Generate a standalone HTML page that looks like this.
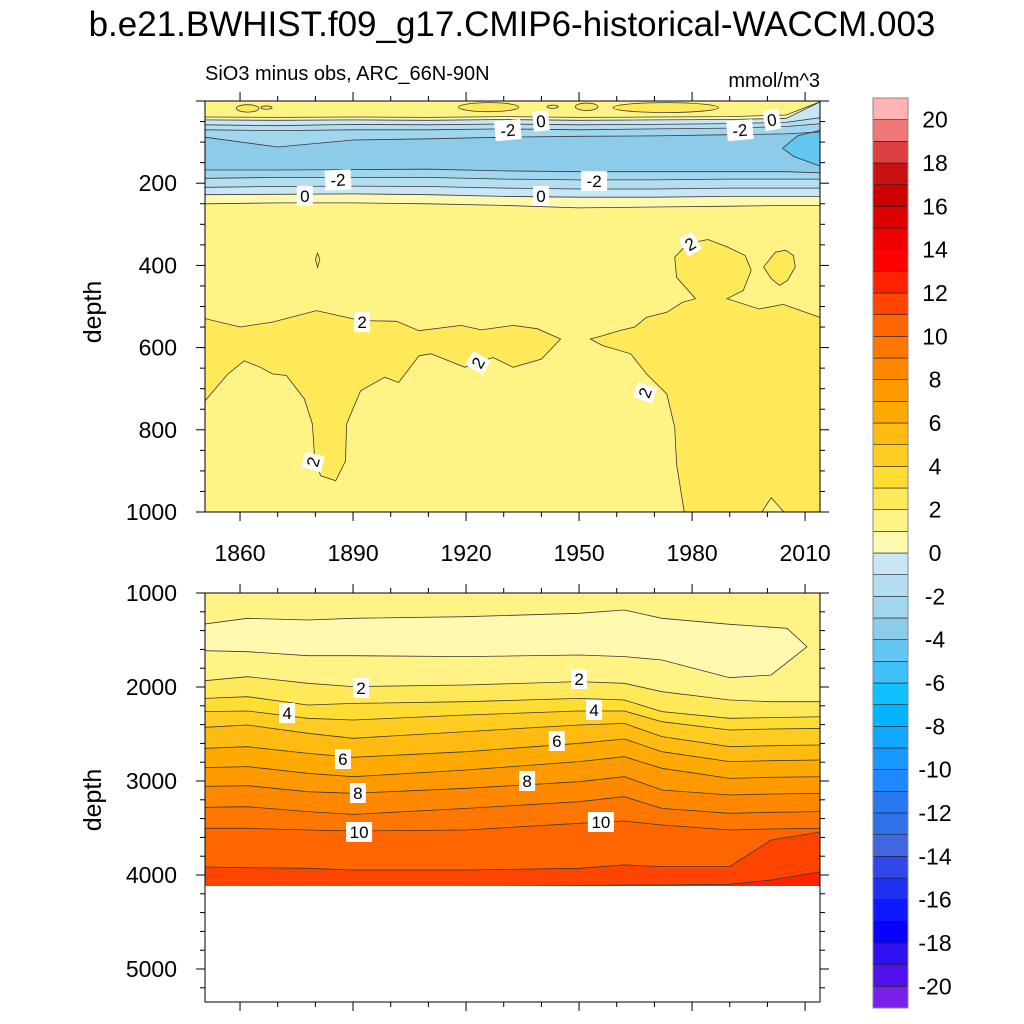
<!DOCTYPE html>
<html><head><meta charset="utf-8"><title>SiO3 minus obs</title>
<style>
html,body{margin:0;padding:0;background:#fff;}
svg{display:block;font-family:"Liberation Sans",sans-serif;}
</style></head>
<body>
<svg id="chart" width="1024" height="1024" viewBox="0 0 1024 1024" xmlns="http://www.w3.org/2000/svg">
<defs>
<clipPath id="clipTop"><rect x="205" y="101" width="615" height="411"/></clipPath>
<clipPath id="clipBot"><rect x="205" y="593" width="615" height="409"/></clipPath>
</defs>
<text x="512" y="36" font-size="35" text-anchor="middle">b.e21.BWHIST.f09_g17.CMIP6-historical-WACCM.003</text>
<text x="205" y="80" font-size="20">SiO3 minus obs, ARC_66N-90N</text>
<text x="820" y="87" font-size="20" text-anchor="end">mmol/m^3</text>
<text transform="translate(101,312) rotate(-90)" font-size="25" text-anchor="middle">depth</text>
<text transform="translate(101,800) rotate(-90)" font-size="25" text-anchor="middle">depth</text>
<g id="topPlot" clip-path="url(#clipTop)"></g>
<g id="botPlot" clip-path="url(#clipBot)"></g>
<g id="labels"></g>
<g id="axes"></g>
<g id="cbar"></g>
</svg>
<script>
// ---- data ----
const levelMin = -21;
const levelColors = ["#7820E8","#5010EE","#3010F0","#0A00FF","#1018FF","#2030F0","#3048E8","#4066E0","#3070E8","#2878F0","#2088FF","#1898FF","#10A8FF","#00B4FF","#10C0FF","#40C0F8","#64C6F2","#8CCBEA","#A0D6EE","#B4DEF2","#C8E6F5","#FFF9B0","#FFF385","#FFE958","#FFDD33","#FFCC22","#FFBB11","#FFAA00","#FF9900","#FF8800","#FF7700","#FF6600","#FF4400","#FF2200","#FF0000","#EE0000","#DD0000","#CC0000","#C81010","#DC4040","#F07878","#FFB3B3"];
const cbarLabels = [20,18,16,14,12,10,8,6,4,2,0,-2,-4,-6,-8,-10,-12,-14,-16,-18,-20];

// top panel (0-1000 m)
const topYears = [1850.7,1870,1890,1910,1930,1950,1970,1990,2005,2014.5];
const topBandVals = [0.5,-0.5,-1.5,-2.5,-3.5,-2.5,-1.5,-0.5,0.5];
const topLineA = [39,40,39,40,38,40,39,38,34,0];
const topLineB = [46,47,46,47,45,47,46,45,42,0];
const topLineC = [58,60,57,58,56,58,57,55,52,40];
const topLineD = [70,72,70,70,68,70,68,66,62,55];
const topLineE = [88,112,95,92,88,86,85,82,80,75];
const topLineF = [168,168,167,166,170,172,172,172,172,175];
const topLineG = [188,186,186,186,190,192,192,190,190,190];
const topLineH = [210,208,207,208,212,214,214,212,212,212];
const topLineI = [228,227,226,228,232,234,234,232,232,232];
const topLineJ = [250,248,248,250,254,260,258,256,254,254];
const minus4Years = [2014.5,2008,2004,2007,2014.5];
const minus4Depths = [70,85,115,135,160];
const r1Years = [1850,1860,1868.6,1880.3,1892,1901.6,1907.5,1918.7,1924,1932.5,1938.9,1945.1,1940,1932.5,1927.2,1922.9,1919.7,1910.7,1907.5,1902.1,1898.4,1892,1888.3,1888,1885.4,1881.4,1879.8,1879.2,1877.1,1872.3,1868.6,1865.4,1861.1,1856.8,1850];
const r1Depths = [528,550,538,510,534,536,559,546,557,546,554,579,628,648,624,636,648,615,620,685,672,705,786,876,924,912,868,786,725,668,664,648,632,664,737];
const r2Years = [1953,1956.2,1963.7,1967.9,1973.3,1975.4,1975.9,1978.1,1997.8,2001,2005.3,2015,2015,2004.2,1997.8,1989.3,1993.6,1995.7,1994.1,1989.3,1984.2,1978.8,1975.4,1975.9,1980.9,1977.4,1973.3,1967.9,1964.8,1960.6,1956.2];
const r2Depths = [579,595,615,664,713,794,884,1010,1010,965,1010,1010,530,495,506,481,461,412,376,355,337,347,380,429,481,490,514,526,550,559,571];
const r3Years = [1999,2002.1,2004.8,2006.9,2007.4,2005.3,2003.2,2001];
const r3Depths = [404,368,363,376,404,437,449,432];
const spikeYears = [1880,1880.6,1881.2,1880.6];
const spikeDepths = [385,370,385,405];
const patchYears = [1862,1867,1926,1952,1973,1943];
const patchDepths = [18,16,15,14,16,14];
const patchHalfYears = [3,1.5,8,3,14,1.5];
const patchHalfDepths = [9,4,11,9,12,4];

// bottom panel (1000-5350 m)
const botYears = [1850.7,1862,1878,1890,1920,1950,1962,1972,1990,2001,2014.5];
const botLineLevels = [2,3,4,5,6,7,8,9,10,11,12];
const botL2 = [1933,1890,1961,1996,1979,1943,1961,2050,2138,2156,2156];
const botL3 = [2121,2103,2192,2174,2156,2121,2138,2262,2333,2326,2316];
const botL4 = [2262,2255,2333,2351,2298,2255,2255,2369,2457,2447,2440];
const botL5 = [2429,2404,2493,2546,2475,2404,2387,2528,2635,2624,2617];
const botL6 = [2652,2635,2706,2748,2688,2599,2553,2688,2794,2784,2777];
const botL7 = [2858,2847,2918,2954,2883,2794,2741,2865,2972,2961,2954];
const botL8 = [3057,3050,3114,3131,3078,3007,2954,3096,3149,3138,3131];
const botL9 = [3280,3273,3326,3355,3291,3220,3167,3291,3344,3333,3326];
const botL10 = [3503,3503,3521,3532,3521,3450,3425,3468,3521,3511,3503];
const botL11 = [3915,3922,3929,3947,3947,3929,3893,3911,3911,3628,3539];
const botL12 = [4124,4124,4124,4124,4124,4113,4106,4106,4099,4053,3964];
const botDataBottom = 4117;
const paleYears = [1850,1862,1878,1890,1920,1950,1962,1972,1990,2005.2,2010.5,2001,1990,1972,1962,1950,1920,1890,1878,1862,1850];
const paleDepths = [1333,1269,1287,1269,1252,1216,1181,1269,1333,1376,1571,1872,1901,1713,1677,1660,1677,1667,1667,1624,1613];

// contour labels
const labYears = [1931.1,1939.9,1992.7,2001.2,1886,1877.2,1954,1939.9,1979.5,1892.4,1923.2,1967.5,1879.4];
const labDepths = [71,49,71,46,192,231,195,231,348,538,637,710,878];
const labTexts = ["-2","0","-2","0","-2","0","-2","0","2","2","2","2","2"];
const labRot = [-5,-5,-5,-10,-3,0,0,0,-30,0,-60,-70,-75];
const blabYears = [1892.1,1950,1872.5,1954,1887.3,1944.1,1891.3,1936.2,1891.6,1955.8];
const blabDepths = [2011,1915,2277,2245,2766,2574,3128,3000,3543,3436];
const blabTexts = ["2","2","4","4","6","6","8","8","10","10"];

// ---- scales ----
const NS = "http://www.w3.org/2000/svg";
function xS(yr){ return 205 + (yr - 1850.7) * 3.767; }
function yT(d){ return 101 + d * 0.411; }
function yB(d){ return 593 + (d - 1000) * 0.094; }
function colorFor(v){ return levelColors[Math.floor(v - levelMin)]; }
function mk(tag, attrs, parent){
  const e = document.createElementNS(NS, tag);
  for (const k in attrs) e.setAttribute(k, attrs[k]);
  parent.appendChild(e); return e;
}
function pts(xs, ds, ys){ return xs.map((x,i)=>xS(x).toFixed(1)+","+ys(ds[i]).toFixed(1)); }
const STROKE = "#3a3a3a";

// ---- top panel ----
const topG = document.getElementById("topPlot");
let r = mk("rect",{x:205,y:101,width:615,height:411,fill:colorFor(1.5)},topG);


const topLines = [topLineA,topLineB,topLineC,topLineD,topLineE,topLineF,topLineG,topLineH,topLineI,topLineJ];
for (let i=0;i<topLines.length-1;i++){
  const a = pts(topYears, topLines[i], yT);
  const b = pts(topYears, topLines[i+1], yT).reverse();
  const p = mk("polygon",{points:a.concat(b).join(" "),fill:colorFor(topBandVals[i]),stroke:"none"},topG);
  
  
}
function blob(xs, ds, v, g, ys, name){
  const p = mk("polygon",{points:pts(xs,ds,ys).join(" "),fill:colorFor(v),stroke:STROKE,"stroke-width":0.8},g);
  
  
}
blob(minus4Years, minus4Depths, -4.5, topG, yT, 'minus4-region');
blob(r1Years, r1Depths, 2.5, topG, yT, 'plus2-region-left');
blob(r2Years, r2Depths, 2.5, topG, yT, 'plus2-region-right');
blob(r3Years, r3Depths, 2.5, topG, yT, 'plus2-blob');
blob(spikeYears, spikeDepths, 2.5, topG, yT, 'plus2-spike');
for (let i=0;i<patchYears.length;i++){
  const e = mk("ellipse",{cx:xS(patchYears[i]),cy:yT(patchDepths[i]),rx:patchHalfYears[i]*3.767,ry:patchHalfDepths[i]*0.411,fill:colorFor(2.5),stroke:STROKE,"stroke-width":0.8},topG);
  
  
}
for (let i=0;i<topLines.length;i++){
  const l = mk("polyline",{points:pts(topYears, topLines[i], yT).join(" "),fill:"none",stroke:STROKE,"stroke-width":0.8},topG);
  
  
}

// ---- bottom panel ----
const botG = document.getElementById("botPlot");
r = mk("rect",{x:205,y:593,width:615,height:yB(botDataBottom)-593,fill:colorFor(1.5)},botG);


const botLines = [botL2,botL3,botL4,botL5,botL6,botL7,botL8,botL9,botL10,botL11,botL12];
for (let i=0;i<botLines.length;i++){
  const a = pts(botYears, botLines[i], yB);
  const nxt = i<botLines.length-1 ? botLines[i+1] : botYears.map(()=>botDataBottom);
  const b = pts(botYears, nxt, yB).reverse();
  const p = mk("polygon",{points:a.concat(b).join(" "),fill:colorFor(botLineLevels[i]+0.5),stroke:"none"},botG);
  
  
}
blob(paleYears, paleDepths, 0.5, botG, yB, 'low-value-region');
for (let i=0;i<botLines.length;i++){
  const l = mk("polyline",{points:pts(botYears, botLines[i], yB).join(" "),fill:"none",stroke:STROKE,"stroke-width":0.8},botG);
  
  
}
r = mk("rect",{x:205,y:yB(botDataBottom),width:615,height:1002-yB(botDataBottom),fill:"#fff"},botG);



// ---- contour labels ----
const labG = document.getElementById("labels");
function clabel(x,y,t,rot){
  const g = mk("g",{transform:`translate(${x.toFixed(1)},${y.toFixed(1)}) rotate(${rot})`},labG);
  
  
  const w = t.length*10+6;
  mk("rect",{x:-w/2,y:-10,width:w,height:20,fill:"#fff"},g);
  const tx = mk("text",{x:0,y:6,"font-size":17,"text-anchor":"middle"},g);
  tx.textContent = t;
}
for (let i=0;i<labTexts.length;i++) clabel(xS(labYears[i]), yT(labDepths[i]), labTexts[i], labRot[i]);
for (let i=0;i<blabTexts.length;i++) clabel(xS(blabYears[i]), yB(blabDepths[i]), blabTexts[i], 0);

// ---- axes ----
const axG = document.getElementById("axes");
function line(x1,y1,x2,y2,w,name){
  const l = mk("line",{x1,y1,x2,y2,stroke:"#000","stroke-width":w},axG);
  
  
}
function txt(x,y,s,anchor,name){
  const t = mk("text",{x,y,"font-size":23,"text-anchor":anchor},axG);
  t.textContent = s;
  
  
}
[[101,512,yT,0,1000,200,50],[593,1002,yB,1000,5350,1000,200]].forEach(([top,bot,ys,d0,d1,maj,mn],pi)=>{
  const fr = mk("rect",{x:205,y:top,width:615,height:bot-top,fill:"none",stroke:"#000","stroke-width":1},axG);
  
  
  for (let yr=1860; yr<=2010; yr+=10){
    const isMaj = (yr-1860)%30===0; const L = isMaj?9:5;
    line(xS(yr),top,xS(yr),top-L,1,'x-tick');
    line(xS(yr),bot,xS(yr),bot+L,1,'x-tick');
    if (isMaj && pi===0) txt(xS(yr),561,String(yr),"middle",'x-tick-label');
  }
  for (let d=d0; d<=d1; d+=mn){
    const isMaj = d%maj===0; const L = isMaj?9:5; const y = ys(d);
    if (y<top-0.5 || y>bot+0.5) continue;
    line(205,y,205-L,y,1,'y-tick');
    line(820,y,820+L,y,1,'y-tick');
    if (isMaj && (pi===1 || d>0)) txt(177,y+8,String(d),"end",'y-tick-label');
  }
});

// ---- colorbar ----
const cbG = document.getElementById("cbar");
const boxH = 910/levelColors.length;
for (let i=0;i<levelColors.length;i++){
  const y = 1008 - (i+1)*boxH;
  const b = mk("rect",{x:873,y:y.toFixed(2),width:35,height:boxH.toFixed(2),fill:levelColors[i],stroke:"#222","stroke-width":0.6},cbG);
  
  
}
const cf = mk("rect",{x:873,y:98,width:35,height:910,fill:"none",stroke:"#888","stroke-width":1},cbG);


cbarLabels.forEach(v=>{
  const y = 1008 - (v - levelMin)*boxH;
  const t = mk("text",{x:935,y:(y+8).toFixed(1),"font-size":23,"text-anchor":"middle"},cbG);
  t.textContent = String(v);
  
  
});
</script>
</body></html>
